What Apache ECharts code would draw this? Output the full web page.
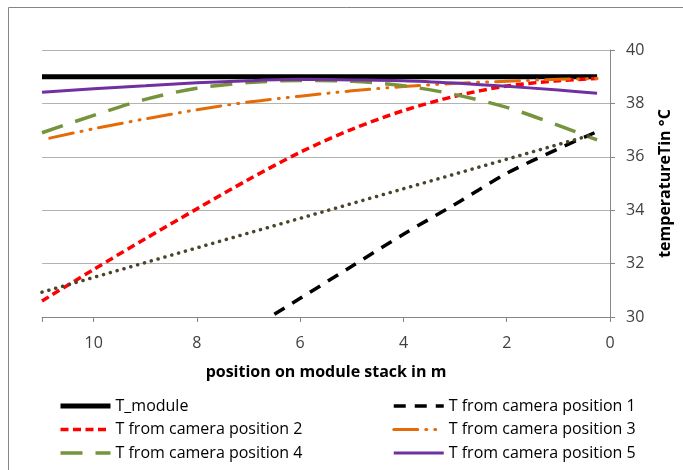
<!DOCTYPE html>
<html><head><meta charset="utf-8">
<script src="https://cdn.jsdelivr.net/npm/echarts@6/dist/echarts.min.js"></script>
<style>html,body{margin:0;padding:0;background:#fff}#c{width:683px;height:470px}</style>
</head><body><div id="c"></div>
<script>
var positions = [11, 10, 9, 8, 7, 6, 5, 4, 3, 2, 1, 0.25];
var tModuleX = [11, 0.25];
var tModule = [39, 39];
var cam1X = [6.5, 6, 5, 4, 3, 2, 1, 0.3];
var cam1 = [30.1, 30.7, 31.9, 33.1, 34.22, 35.38, 36.3, 36.9];
var cam2 = [30.6, 31.78, 32.93, 34.05, 35.15, 36.17, 37.03, 37.73, 38.27, 38.65, 38.85, 38.93];
var cam3X = [10.85, 10, 9, 8, 7, 6, 5, 4, 3, 2, 1, 0.25];
var cam3 = [36.7, 37.05, 37.42, 37.76, 38.05, 38.27, 38.47, 38.63, 38.75, 38.83, 38.9, 38.93];
var cam4 = [36.9, 37.55, 38.15, 38.57, 38.78, 38.86, 38.83, 38.66, 38.33, 37.85, 37.18, 36.63];
var cam5 = [38.42, 38.55, 38.66, 38.77, 38.85, 38.9, 38.88, 38.85, 38.76, 38.64, 38.5, 38.38];
var trendX = [11, 0.3];
var trend = [30.93, 36.85];
var xTicks = [0, 2, 4, 6, 8, 10];
var yTicks = [30, 32, 34, 36, 38, 40];
var names = ['T_module', 'T from camera position 1', 'T from camera position 2',
             'T from camera position 3', 'T from camera position 4', 'T from camera position 5'];

function pairs(xs, ys) { return xs.map(function (x, i) { return [x, ys[i]]; }); }

var FONT = 'Open Sans';
var legendCommon = {orient: 'vertical', top: 398, padding: 0, itemWidth: 50, itemHeight: 14, itemGap: 7.5,
  itemStyle: {opacity: 0},
  textStyle: {fontFamily: FONT, fontSize: 16, color: '#000'}};
function li(name, w) { return {name: name, lineStyle: {width: w}}; }
var chart = echarts.init(document.getElementById('c'), null, {renderer: 'canvas'});
chart.setOption({
  animation: false,
  backgroundColor: '#fff',
  graphic: [{type: 'rect', shape: {x: 8.5, y: 7.5, width: 700, height: 500},
             style: {fill: 'none', stroke: '#868686', lineWidth: 1}, z: -1}],
  grid: {left: 42, right: 73, top: 50, bottom: 153},
  xAxis: {
    type: 'value', min: 0, max: 11, interval: 2, inverse: true,
    name: 'position on module stack in m', nameLocation: 'middle', nameGap: 47,
    nameTextStyle: {fontFamily: FONT, fontWeight: 'bold', fontSize: 16, color: '#000'},
    axisLine: {show: true, lineStyle: {color: '#868686', width: 1}},
    axisTick: {show: true, length: 5, lineStyle: {color: '#868686'}},
    axisLabel: {margin: 18, fontFamily: FONT, fontSize: 16, color: '#404040',
      formatter: function (v) { return xTicks.indexOf(v) >= 0 ? String(v) : ''; }},
    splitLine: {show: false}
  },
  yAxis: {
    type: 'value', position: 'right', min: 30, max: 40, interval: 2,
    name: 'temperatureTin °C', nameLocation: 'middle', nameGap: 47,
    nameTextStyle: {fontFamily: FONT, fontWeight: 'bold', fontSize: 16, color: '#000'},
    axisLine: {show: true, lineStyle: {color: '#868686', width: 1}},
    axisTick: {show: true, length: 5, lineStyle: {color: '#868686'}},
    axisLabel: {margin: 16, fontFamily: FONT, fontSize: 16, color: '#404040',
      formatter: function (v) { return yTicks.indexOf(v) >= 0 ? String(v) : ''; }},
    splitLine: {show: true, lineStyle: {color: '#B3B3B3', width: 1}}
  },
  legend: [
    Object.assign({left: 58, data: [li(names[0], 5), li(names[2], 3.5), li(names[4], 3.5)]}, legendCommon),
    Object.assign({left: 392, data: [li(names[1], 3.5), li(names[3], 3), li(names[5], 3)]}, legendCommon)
  ],
  series: [
    {name: names[0], type: 'line', data: pairs(tModuleX, tModule), symbol: 'none',
     lineStyle: {color: '#000', width: 5}, itemStyle: {color: '#000'}},
    {name: names[1], type: 'line', data: pairs(cam1X, cam1), symbol: 'none', smooth: 0.3,
     lineStyle: {color: '#000', width: 3.5, type: [12, 9]}, itemStyle: {color: '#000'}},
    {name: names[2], type: 'line', data: pairs(positions, cam2), symbol: 'none', smooth: 0.3,
     lineStyle: {color: '#FF0000', width: 3.5, type: [8, 4.5]}, itemStyle: {color: '#FF0000'}},
    {name: names[3], type: 'line', data: pairs(cam3X, cam3), symbol: 'none', smooth: 0.3,
     lineStyle: {color: '#E36C09', width: 3, type: [24, 8, 1, 8, 1, 8], cap: 'round'}, itemStyle: {color: '#E36C09'}},
    {name: names[4], type: 'line', data: pairs(positions, cam4), symbol: 'none', smooth: 0.3,
     lineStyle: {color: '#77933C', width: 3.5, type: [22, 13]}, itemStyle: {color: '#77933C'}},
    {name: names[5], type: 'line', data: pairs(positions, cam5), symbol: 'none', smooth: 0.3,
     lineStyle: {color: '#7030A0', width: 3}, itemStyle: {color: '#7030A0'}},
    {name: 'trend', type: 'line', data: pairs(trendX, trend), symbol: 'none',
     lineStyle: {color: '#4A452A', width: 3.5, type: [0.1, 7], cap: 'round'}, itemStyle: {color: '#4A452A'}}
  ]
});
</script></body></html>
